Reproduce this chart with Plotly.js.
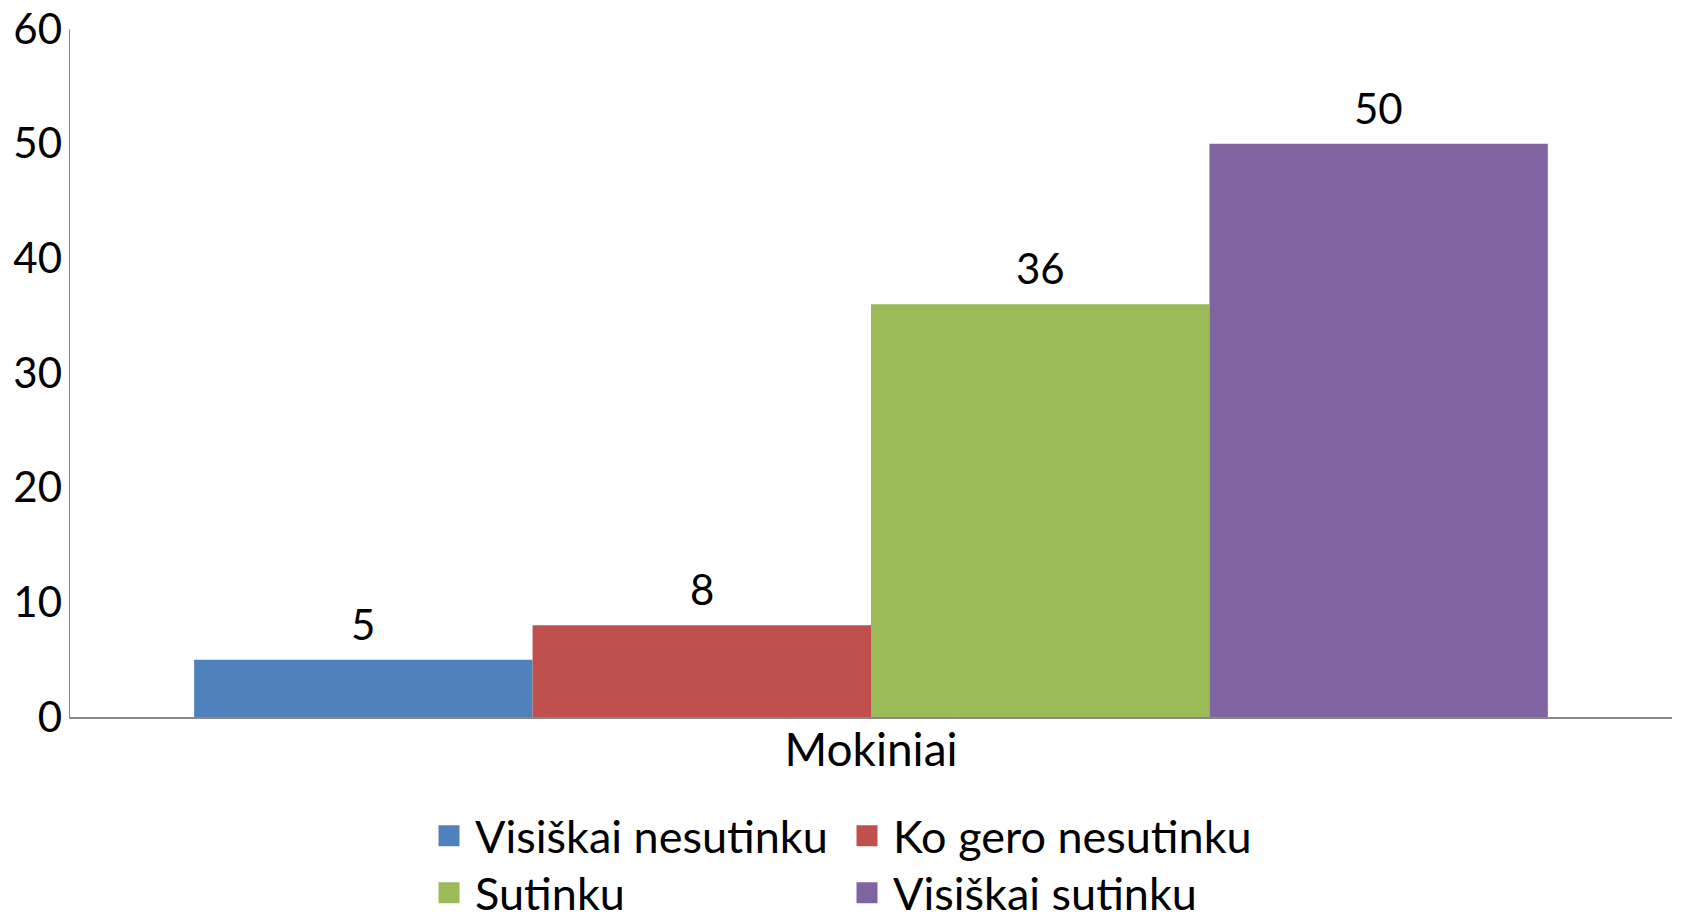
<!DOCTYPE html>
<html>
<head>
<meta charset="utf-8">
<script src="https://cdn.plot.ly/plotly-3.0.1.min.js"></script>
<style>html,body{margin:0;padding:0;background:#fff;}#chart{width:1681px;height:919px;}</style>
</head>
<body>
<div id="chart"></div>
<script>
const categories = ["Mokiniai"];
const seriesNames = ["Visiškai nesutinku", "Ko gero nesutinku", "Sutinku", "Visiškai sutinku"];
const seriesValues = [[5], [8], [36], [50]];
const seriesColors = ["#4F81BD", "#C0504D", "#9BBB59", "#8064A2"];
const yTicks = [0, 10, 20, 30, 40, 50, 60];

const FONT = "Lato, 'Open Sans', sans-serif";

const W = 1681, H = 919;
const M = { l: 70, r: 9, t: 29, b: 202 };
const BARGAP = 0.155;
const plotW = W - M.l - M.r;
const barPx = plotW * (1 - BARGAP) / seriesNames.length;

// bars (no legend entries; legend is drawn by marker-only entries below)
const barTraces = seriesNames.map((name, i) => ({
  type: "bar",
  name: name,
  x: categories,
  y: seriesValues[i],
  marker: { color: seriesColors[i] },
  showlegend: false,
  hoverinfo: "none"
}));

// legend entries with larger square swatches
const legendTraces = seriesNames.map((name, i) => ({
  type: "scatter",
  mode: "markers",
  name: name,
  x: categories,
  y: [null],
  marker: { symbol: "square", size: 16, color: seriesColors[i], line: { color: seriesColors[i], width: 5 } },
  legend: i < 2 ? "legend" : "legend2",
  hoverinfo: "none"
}));

// value labels above each bar
const annotations = [];
seriesNames.forEach((name, i) => {
  seriesValues[i].forEach((v, j) => {
    annotations.push({
      x: categories[j], y: v, xref: "x", yref: "y",
      xshift: (i - (seriesNames.length - 1) / 2) * barPx,
      yshift: 9,
      yanchor: "bottom", xanchor: "center",
      showarrow: false,
      text: String(v),
      font: { family: FONT, size: 42, color: "#000" }
    });
  });
});

const legendCommon = {
  orientation: "h",
  xref: "container", yref: "container",
  xanchor: "left", yanchor: "middle",
  itemwidth: 42,
  entrywidth: 361,
  font: { family: FONT, size: 45, color: "#000" },
  bgcolor: "rgba(0,0,0,0)",
  traceorder: "normal"
};

const layout = {
  width: W, height: H,
  margin: { l: M.l, r: M.r, t: M.t, b: M.b, autoexpand: false },
  paper_bgcolor: "#fff", plot_bgcolor: "#fff",
  barmode: "group", bargap: BARGAP, bargroupgap: 0,
  showlegend: true,
  xaxis: {
    type: "category",
    showline: true, linecolor: "#898989", linewidth: 1.5,
    ticks: "", showgrid: false, zeroline: false,
    tickfont: { family: FONT, size: 46, color: "#000" },
    ticklabelstandoff: -8
  },
  yaxis: {
    range: [0, 60], tickvals: yTicks, ticktext: yTicks.map(String),
    showline: true, linecolor: "#898989", linewidth: 1.5,
    ticks: "", showgrid: false, zeroline: false,
    tickfont: { family: FONT, size: 42, color: "#000" },
    ticklabelstandoff: -2
  },
  annotations: annotations,
  legend: Object.assign({}, legendCommon, { x: 423 / W, y: 1 - 836 / H }),
  legend2: Object.assign({}, legendCommon, { x: 423 / W, y: 1 - 893 / H })
};

Plotly.newPlot("chart", barTraces.concat(legendTraces), layout, { staticPlot: true, displayModeBar: false });
</script>
</body>
</html>
